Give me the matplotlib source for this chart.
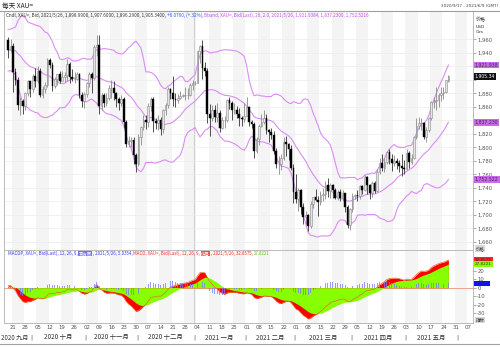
import matplotlib
matplotlib.use('Agg')
import matplotlib.pyplot as plt
import matplotlib.transforms as mtransforms
import numpy as np
import pandas as pd

# ---------------- data (XAU= daily, 2020-09-17 .. 2021-05-26) ----------------
# closes before the visible range (warm-up for Bollinger / MACD)
pre_close = [1940, 1928, 1908, 1954, 1929, 1964, 1968, 1970, 1944, 1931, 1934,
             1929, 1932, 1947, 1945, 1940, 1956, 1954, 1960]

opens = [1959, 1944,
         1950, 1912, 1900, 1863, 1868,  1861, 1881, 1898, 1886, 1906,
         1899, 1913, 1878, 1887, 1893,  1930, 1922, 1891, 1902, 1908,
         1899, 1904, 1907, 1924, 1904,  1902, 1902, 1908, 1877, 1868,
         1879, 1895, 1909, 1903, 1948,  1951, 1862, 1877, 1866, 1873,
         1888, 1888, 1880, 1872, 1866,  1871, 1837, 1805, 1810, 1811,
         1788, 1776, 1815, 1830, 1841,  1838, 1862, 1871, 1839, 1836,
         1840, 1827, 1855, 1863, 1886,  1881, 1872, 1870, 1873, 1876,
         1877, 1877, 1878, 1893, 1895,  1896, 1943, 1950, 1918, 1913,
         1849, 1844, 1855, 1845, 1851,  1828, 1840, 1840, 1870, 1866,
         1855, 1856, 1850, 1843, 1842,  1847, 1860, 1837, 1835, 1794,
         1813, 1831, 1838, 1843, 1825,  1823, 1819, 1794, 1775, 1775,
         1784, 1808, 1805, 1797, 1770,  1734, 1723, 1737, 1711, 1697,
         1700, 1683, 1716, 1726, 1722,  1719, 1730, 1731, 1745, 1735,
         1745, 1737, 1725, 1734, 1725,  1732, 1712, 1685, 1708, 1728,
         1729, 1728, 1743, 1737, 1756,  1744, 1732, 1747, 1736, 1764,
         1777, 1770, 1778, 1793, 1783,  1777, 1780, 1777, 1773, 1769,
         1768, 1792, 1778, 1785, 1815,  1831, 1836, 1836, 1815, 1826,
         1843, 1867, 1869, 1870, 1877,  1881, 1882, 1898.99]

highs = [1963, 1960,
         1954, 1918, 1904, 1874, 1872,  1882, 1900, 1899, 1909, 1917,
         1920, 1918, 1891, 1897, 1933,  1932, 1926, 1904, 1909, 1913,
         1913, 1911, 1931, 1926, 1916,  1911, 1912, 1910, 1882, 1882,
         1897, 1911, 1911, 1951, 1966,  1966, 1880, 1880, 1880, 1892,
         1900, 1898, 1882, 1875, 1878,  1875, 1840, 1817, 1815, 1816,
         1791, 1820, 1832, 1848, 1848,  1866, 1875, 1875, 1844, 1848,
         1845, 1857, 1866, 1890, 1888,  1906, 1881, 1879, 1884, 1879,
         1889, 1888, 1896, 1900, 1898,  1944, 1952, 1959, 1926, 1917,
         1864, 1863, 1863, 1865, 1856,  1845, 1847, 1872, 1875, 1868,
         1866, 1862, 1858, 1846, 1865,  1875, 1862, 1840, 1837, 1816,
         1835, 1849, 1855, 1849, 1827,  1829, 1824, 1799, 1787, 1790,
         1815, 1817, 1806, 1803, 1776,  1760, 1740, 1739, 1718, 1706,
         1702, 1720, 1727, 1739, 1728,  1736, 1740, 1750, 1755, 1747,
         1746, 1740, 1737, 1739, 1737,  1733, 1714, 1710, 1732, 1731,
         1737, 1745, 1745, 1759, 1758,  1746, 1750, 1750, 1768, 1784,
         1790, 1785, 1795, 1797, 1790,  1789, 1784, 1781, 1790, 1782,
         1798, 1795, 1790, 1817, 1844,  1845, 1844, 1837, 1830, 1845,
         1869, 1874, 1890, 1880, 1890,  1889, 1900, 1907.60]

lows = [1933, 1942,
        1882, 1892, 1855, 1848, 1850,  1855, 1876, 1874, 1882, 1889,
        1895, 1874, 1873, 1880, 1890,  1917, 1884, 1888, 1892, 1895,
        1898, 1897, 1899, 1895, 1899,  1896, 1900, 1873, 1860, 1859,
        1874, 1889, 1880, 1900, 1936,  1850, 1855, 1860, 1862, 1870,
        1873, 1870, 1860, 1855, 1862,  1828, 1800, 1800, 1800, 1775,
        1764, 1772, 1804, 1825, 1827,  1830, 1854, 1823, 1827, 1826,
        1819, 1822, 1848, 1859, 1872,  1861, 1860, 1865, 1872, 1874,
        1870, 1872, 1876, 1885, 1893,  1895, 1925, 1901, 1906, 1836,
        1817, 1839, 1838, 1837, 1823,  1827, 1829, 1838, 1857, 1840,
        1849, 1843, 1831, 1831, 1838,  1846, 1831, 1829, 1785, 1791,
        1804, 1830, 1835, 1820, 1808,  1813, 1790, 1770, 1760, 1767,
        1781, 1787, 1782, 1767, 1717,  1717, 1706, 1702, 1687, 1687,
        1676, 1681, 1710, 1720, 1699,  1714, 1721, 1723, 1727, 1725,
        1725, 1723, 1722, 1721, 1721,  1705, 1680, 1677, 1705, 1724,
        1721, 1723, 1731, 1736, 1731,  1723, 1727, 1733, 1735, 1760,
        1765, 1764, 1775, 1776, 1765,  1772, 1768, 1764, 1758, 1760,
        1766, 1770, 1776, 1783, 1812,  1827, 1825, 1812, 1808, 1823,
        1841, 1859, 1855, 1860, 1869,  1872, 1881, 1896.29]

closes = [1944, 1950,
          1912, 1900, 1863, 1868, 1861,  1881, 1898, 1886, 1906, 1899,
          1913, 1878, 1887, 1893, 1930,  1922, 1891, 1902, 1908, 1899,
          1904, 1907, 1924, 1904, 1902,  1902, 1908, 1877, 1868, 1879,
          1895, 1909, 1903, 1948, 1951,  1862, 1877, 1866, 1873, 1888,
          1888, 1880, 1872, 1866, 1871,  1837, 1805, 1810, 1811, 1788,
          1776, 1815, 1830, 1841, 1838,  1862, 1871, 1839, 1836, 1840,
          1827, 1855, 1863, 1886, 1881,  1872, 1870, 1873, 1876, 1877,
          1877, 1878, 1893, 1895, 1896,  1943, 1950, 1918, 1913, 1849,
          1844, 1855, 1845, 1851, 1828,  1840, 1840, 1870, 1866, 1855,
          1856, 1850, 1843, 1842, 1847,  1860, 1837, 1835, 1794, 1813,
          1831, 1838, 1843, 1825, 1823,  1819, 1794, 1775, 1775, 1784,
          1808, 1805, 1797, 1770, 1734,  1723, 1737, 1711, 1697, 1700,
          1683, 1716, 1726, 1722, 1719,  1730, 1731, 1745, 1735, 1745,
          1737, 1725, 1734, 1725, 1732,  1712, 1685, 1708, 1728, 1729,
          1728, 1743, 1737, 1756, 1744,  1732, 1747, 1736, 1764, 1777,
          1770, 1778, 1793, 1783, 1777,  1780, 1777, 1773, 1769, 1768,
          1792, 1778, 1785, 1815, 1831,  1836, 1836, 1815, 1826, 1843,
          1867, 1869, 1870, 1877, 1881,  1882, 1899.26, 1905.34]

price_ticks = list(range(1660, 1961, 20))
macd_ticks = [-30, -20, -10, 0, 10, 20]
month_names = ['一月', '二月', '三月', '四月', '五月', '六月', '七月', '八月',
               '九月', '十月', '十一月', '十二月']

# ---------------- indicators ----------------
s = pd.Series(pre_close + closes, dtype=float)
npre = len(pre_close)
mid = s.rolling(20).mean().values[npre:]
sd = s.rolling(20).std(ddof=0).values[npre:]
upper, lower = mid + 2 * sd, mid - 2 * sd
ema12 = s.ewm(span=12, adjust=False).mean()
ema26 = s.ewm(span=26, adjust=False).mean()
macd_full = ema12 - ema26
sig_full = macd_full.ewm(span=9, adjust=False).mean()
macd = macd_full.values[npre:]
sig = sig_full.values[npre:]
hist = macd - sig

n = len(closes)
x = np.arange(n)
dates = pd.bdate_range('2020-09-17', '2021-06-09')
ndates = len(dates)

# ---------------- figure ----------------
W, H = 500, 347
fig = plt.figure(figsize=(5, 3.47), dpi=100)
fig.patch.set_facecolor('white')
def fx(px): return px / W
def fy(py): return 1 - py / H

L, R = 4, 473
ax = fig.add_axes([fx(L), fy(250), fx(R) - fx(L), fy(11) - fy(250)])
ax2 = fig.add_axes([fx(L), fy(322.7), fx(R) - fx(L), fy(251) - fy(322.7)])

xl = (-1.67, 189.0)
mondays = [i for i, d in enumerate(dates) if d.weekday() == 0]
jan = [i for i, d in enumerate(dates) if d.year == 2021][0]
for a in (ax, ax2):
    a.set_xlim(*xl)
    a.set_facecolor('white')
    for k, m in enumerate(mondays):
        if k % 2 == 0:
            end = mondays[k + 1] - 0.5 if k + 1 < len(mondays) else xl[1]
            a.axvspan(m - 0.5, end, color='#f4f4f4', lw=0, zorder=0)
    a.axvline(jan - 0.5, color='#d0d0d0', lw=0.8, zorder=0.5)
    for sp in a.spines.values():
        sp.set_color('#b0b0b0')
        sp.set_linewidth(0.6)
    a.spines['top'].set_visible(False)
    a.set_xticks([])

# ---- main panel ----
ylo, yhi = 1648.0, 2002.0
ax.set_ylim(ylo, yhi)
for t in price_ticks:
    ax.axhline(t, color='#ececec', lw=0.5, zorder=0.6)
ax.plot(x, upper, color='#dc8cf5', lw=0.8, zorder=2)
ax.plot(x, mid, color='#dc8cf5', lw=0.8, zorder=2)
ax.plot(x, lower, color='#dc8cf5', lw=0.8, zorder=2)

o = np.array(opens, float); h = np.array(highs, float)
l = np.array(lows, float); c = np.array(closes, float)
up = c >= o
ax.vlines(x[up], l[up], h[up], color='#8a8a8a', lw=0.6, zorder=3)
ax.vlines(x[~up], l[~up], h[~up], color='#333333', lw=0.6, zorder=3)
body_b = np.minimum(o, c)
body_h = np.maximum(np.abs(c - o), 0.6)
ax.bar(x[up], body_h[up], bottom=body_b[up], width=0.7, color='#e4e4e4',
       edgecolor='#8a8a8a', linewidth=0.4, zorder=4)
ax.bar(x[~up], body_h[~up], bottom=body_b[~up], width=0.7, color='#000000',
       edgecolor='#000000', linewidth=0.3, zorder=4)

box_vals = [upper[-1], c[-1], mid[-1], lower[-1]]
px_per_unit = (250 - 11) / (yhi - ylo)
ax.yaxis.tick_right()
ax.set_yticks(price_ticks)
ax.set_yticklabels(['' if min(abs(t - b) for b in box_vals) * px_per_unit < 4.5 else f'{t:,}'
                    for t in price_ticks])
ax.tick_params(axis='y', length=2, width=0.5, color='#888888', labelsize=3.8,
               labelcolor='#555555', pad=1)

def rbox(a, y, txt, fc, tc, size=3.3):
    a.text(1.004, y, txt, transform=mtransforms.blended_transform_factory(a.transAxes, a.transData),
           ha='left', va='center', fontsize=size, color=tc, clip_on=False, zorder=10,
           bbox=dict(boxstyle='square,pad=0.2', fc=fc, ec='none'))

rbox(ax, upper[-1], f'{upper[-1]:,.3f}', '#cc66ee', '#333333')
rbox(ax, c[-1], f'{c[-1]:,.2f}', '#111111', '#ffffff')
rbox(ax, mid[-1], f'{mid[-1]:,.3f}', '#cc66ee', '#333333')
rbox(ax, lower[-1], f'{lower[-1]:,.3f}', '#cc66ee', '#333333')

# ---- MACD panel ----
ax2.set_ylim(-41.4, 43.4)
ax2.fill_between(x, 0, macd, color='#ff0000', lw=0, zorder=2)
ax2.fill_between(x, 0, sig, color='#88ff00', lw=0, zorder=3)
ax2.plot(x, macd, color='#e86a30', lw=0.5, zorder=4)
ax2.bar(x, hist, width=0.35, color='#7a7aff', alpha=0.75, zorder=5)
ax2.axhline(0, color='#f2a28c', lw=0.7, zorder=1.5)
ax2.yaxis.tick_right()
ax2.set_yticks(macd_ticks)
ax2.set_yticklabels([str(v) for v in macd_ticks])
ax2.tick_params(axis='y', length=2, width=0.5, color='#888888', labelsize=3.8,
                labelcolor='#555555', pad=1)
rbox(ax2, macd[-1], f'{macd[-1]:.4f}', '#ff2020', '#333333', 3.0)
rbox(ax2, sig[-1], f'{sig[-1]:.4f}', '#88ff00', '#333333', 3.0)
rbox(ax2, hist[-1], f'{hist[-1]:.4f}', '#1010ff', '#222266', 3.0)

# ---- date axis ----
trans = mtransforms.blended_transform_factory(ax2.transData, fig.transFigure)
for i in mondays:
    ax2.text(i, fy(327.5), dates[i].strftime('%d'), transform=trans, ha='center', va='center',
             fontsize=3.9, color='#555555', clip_on=False)
cjk = ['Noto Sans CJK SC', 'DejaVu Sans']
months = pd.Series(range(ndates), index=dates).groupby([dates.year, dates.month])
first = True
for (yy, mm), grp in months:
    i0, i1 = grp.values[0], grp.values[-1]
    if i0 > 0:
        ax2.text(i0 - 0.5, fy(337.5), '|', transform=trans, ha='center', va='center',
                 fontsize=4.5, color='#555555', clip_on=False)
    label = f'{yy} {month_names[mm - 1]}'
    if i1 - i0 < 8:
        continue
    if first:
        fig.text(fx(1), fy(337.5), label, ha='left', va='center',
                 fontsize=4.4, color='#333333', family=cjk)
        first = False
    else:
        ax2.text((i0 + i1) / 2, fy(337.5), label, transform=trans, ha='center', va='center',
                 fontsize=4.6, color='#333333', family=cjk, clip_on=False)

# ---- headers / legends ----
fig.add_artist(plt.Line2D([0, 1], [fy(11), fy(11)], color='#a0a0a0', lw=0.8))
fig.add_artist(plt.Line2D([0, 1], [fy(344), fy(344)], color='#a0a0a0', lw=0.8))
fig.text(fx(2), fy(5.5), '每天 XAU=', fontsize=4.8, family=cjk, color='#222222',
         ha='left', va='center')
fig.text(fx(498), fy(6), '2020/9/17 - 2021/6/9 (GMT)', fontsize=3.0, color='#444444',
         ha='right', va='center')
fig.text(fx(476), fy(20), '价格', fontsize=3.6, family=cjk, color='#333333', va='center')
fig.text(fx(476), fy(26.5), 'USD', fontsize=3.2, color='#333333', va='center')
fig.text(fx(476), fy(32), 'Ozs', fontsize=3.2, color='#333333', va='center')
fig.text(fx(476), fy(248.5), '价格', fontsize=3.2, family=cjk, color='#333333', va='center',
         bbox=dict(boxstyle='square,pad=0.12', fc='#d8d8d8', ec='none'))
fig.text(fx(476), fy(320), '指标', fontsize=3.2, family=cjk, color='#333333', va='center',
         bbox=dict(boxstyle='square,pad=0.12', fc='#d8d8d8', ec='none'))

def seq_text(x0, y0, parts, size=3.3):
    fig.canvas.draw()
    r = fig.canvas.get_renderer()
    xx = x0
    for part in parts:
        txt, col = part[0], part[1]
        kw = {}
        if len(part) > 2:
            kw['bbox'] = dict(boxstyle='square,pad=0.1', fc=part[2], ec='none')
        t = fig.text(fx(xx), fy(y0), txt, fontsize=size, color=col, ha='left', va='center',
                     family=cjk, **kw)
        bb = t.get_window_extent(renderer=r)
        xx += bb.width + (1.0 if kw else 0)

seq_text(6, 15.5, [
    ('Cndl, XAU=, Bid, 2021/5/26, 1,898.9900, 1,907.6000, 1,896.2900, 1,905.3400, ', '#333333'),
    ('+6.0760, (+.32%), ', '#2a55ff'),
    (f'Bband, XAU=, Bid(Last), 20, 2.0, 2021/5/26, {upper[-1]:,.4f}, {mid[-1]:,.4f}, {lower[-1]:,.4f}',
     '#c050e8')])
seq_text(8, 253.5, [
    ('MACDP, XAU=, Bid(Last), 12, 26, 9, ', '#3a3aff'),
    ('直方图', '#ffffff', '#7070ff'),
    (f', 2021/5/26, {hist[-1]:.4f}, ', '#3a3aff'),
    ('MACD, XAU=, Bid(Last), 12, 26, 9, ', '#ff2a2a'),
    ('信号', '#ffffff', '#ff5050'),
    (f', 2021/5/26, {macd[-1]:.4f}, ', '#ff2a2a'),
    (f'{sig[-1]:.4f}', '#66cc00')], size=3.2)

fig.savefig('out.png', dpi=100)
